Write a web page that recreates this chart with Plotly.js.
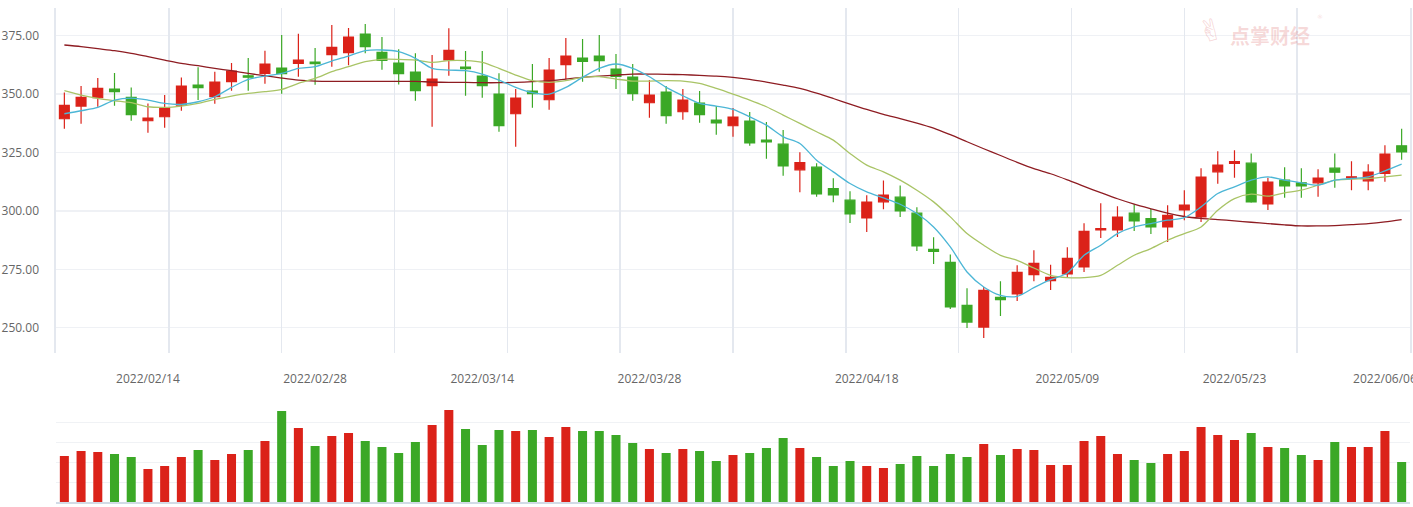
<!DOCTYPE html>
<html>
<head>
<meta charset="utf-8">
<script src="https://cdn.plot.ly/plotly-3.0.1.min.js"></script>
<style>html,body{margin:0;padding:0;background:#fff;}#chart{width:1413px;height:507px;}</style>
</head>
<body>
<div id="chart"></div>
<script>
// ---- data ----
const dates = [
'2022/02/07','2022/02/08','2022/02/09','2022/02/10','2022/02/11','2022/02/14','2022/02/15','2022/02/16','2022/02/17','2022/02/18',
'2022/02/21','2022/02/22','2022/02/23','2022/02/24','2022/02/25','2022/02/28','2022/03/01','2022/03/02','2022/03/03','2022/03/04',
'2022/03/07','2022/03/08','2022/03/09','2022/03/10','2022/03/11','2022/03/14','2022/03/15','2022/03/16','2022/03/17','2022/03/18',
'2022/03/21','2022/03/22','2022/03/23','2022/03/24','2022/03/25','2022/03/28','2022/03/29','2022/03/30','2022/03/31','2022/04/01',
'2022/04/06','2022/04/07','2022/04/08','2022/04/11','2022/04/12','2022/04/13','2022/04/14','2022/04/15','2022/04/18','2022/04/19',
'2022/04/20','2022/04/21','2022/04/22','2022/04/25','2022/04/26','2022/04/27','2022/04/28','2022/04/29','2022/05/05','2022/05/06',
'2022/05/09','2022/05/10','2022/05/11','2022/05/12','2022/05/13','2022/05/16','2022/05/17','2022/05/18','2022/05/19','2022/05/20',
'2022/05/23','2022/05/24','2022/05/25','2022/05/26','2022/05/27','2022/05/30','2022/05/31','2022/06/01','2022/06/02','2022/06/06',
'2022/06/07'];
const tickDates = ['2022/02/14','2022/02/28','2022/03/14','2022/03/28','2022/04/18','2022/05/09','2022/05/23','2022/06/06'];
const yTicks = [250, 275, 300, 325, 350, 375];

const open = [339.43,344.86,348.43,352.14,348.57,338.57,340.29,345.29,353.86,348.86,
355.29,357.8,358.86,361.14,363.14,363.71,366.86,367.71,375.71,367.86,
363.29,359.43,353.57,364.57,361.57,357.71,350.0,341.57,351.29,347.57,
362.57,365.43,366.29,360.71,357.29,346.29,350.86,342.43,346.14,338.86,
336.43,338.43,330.29,328.57,317.57,318.71,309.57,304.57,297.0,303.86,
305.86,299.0,283.57,278.0,259.57,250.29,263.0,264.43,272.71,270.14,
273.0,276.0,291.86,291.86,299.0,296.71,293.14,300.43,297.43,316.71,
320.29,320.43,303.0,313.14,312.0,312.0,318.29,314.14,312.86,316.0,
327.86];
const high = [350.71,353.43,356.86,359.0,352.86,346.0,349.57,357.14,361.43,359.57,
363.29,365.43,368.57,375.29,375.86,369.71,379.57,378.29,380.0,374.43,
369.14,367.43,366.71,378.14,368.43,368.43,358.86,352.14,362.86,365.43,
374.0,373.57,375.29,367.14,362.86,356.0,353.43,352.14,351.29,344.86,
344.0,342.29,338.0,334.57,325.14,320.43,314.0,308.43,306.71,313.0,
310.86,301.57,288.71,281.29,266.86,267.43,269.86,276.71,283.14,277.0,
284.43,294.71,303.29,302.0,302.86,300.86,302.43,308.86,318.29,325.57,
326.0,324.57,314.14,318.71,318.29,317.86,324.57,321.29,320.0,328.14,
335.14];
const low = [335.14,337.29,344.57,345.0,338.57,333.43,335.57,342.86,347.43,345.86,
351.43,351.43,354.43,350.14,357.43,354.0,361.71,362.29,367.43,360.43,
354.14,347.14,336.0,357.86,349.29,348.43,333.86,327.43,344.14,343.29,
356.29,355.29,359.57,352.14,347.14,339.86,337.29,339.0,337.71,332.57,
331.71,327.86,322.29,315.0,308.0,306.0,303.71,294.86,291.0,300.71,
297.43,282.86,277.29,258.0,249.86,245.57,255.0,261.43,269.86,266.14,
271.29,273.86,288.43,288.86,291.43,290.14,286.71,296.0,295.29,311.57,
314.14,303.43,300.43,305.57,305.57,306.0,309.86,308.86,308.86,312.43,
321.86];
const close = [345.14,348.57,352.43,351.0,341.14,339.71,344.14,353.43,352.71,355.14,
359.86,357.2,362.86,358.71,364.57,363.0,370.0,374.43,370.29,364.43,
358.71,351.43,356.43,368.71,360.86,353.57,336.43,348.29,350.14,360.29,
366.29,364.0,364.29,357.57,350.14,349.57,340.71,347.43,341.14,337.71,
340.14,329.14,329.57,319.29,320.71,307.29,306.86,298.71,303.71,306.71,
300.0,285.0,282.71,258.86,252.43,266.0,262.0,273.71,277.57,271.57,
279.71,291.29,292.43,297.29,295.71,293.14,298.14,302.43,314.43,319.57,
321.14,303.86,312.29,310.71,310.71,314.0,316.57,314.57,316.57,324.29,
325.29];
const volume = [2.32,2.57,2.52,2.42,2.27,1.67,1.82,2.27,2.62,2.12,
2.42,2.62,3.07,4.57,3.72,2.82,3.32,3.47,3.07,2.77,
2.47,3.02,3.87,4.62,3.67,2.87,3.62,3.57,3.62,3.27,
3.77,3.57,3.57,3.37,2.97,2.67,2.47,2.67,2.57,2.07,
2.37,2.47,2.72,3.22,2.72,2.27,1.82,2.07,1.82,1.72,
1.92,2.32,1.82,2.42,2.27,2.92,2.37,2.67,2.62,1.87,
1.87,3.07,3.32,2.42,2.12,1.97,2.42,2.57,3.77,3.37,
3.12,3.47,2.77,2.72,2.37,2.12,3.02,2.77,2.77,3.57,
2.02];
const ma5 = [341.57,342.86,344.29,347.43,348.29,347.43,346.0,345.57,346.71,348.86,
352.86,356.29,357.71,358.86,361.0,361.71,364.14,366.29,368.57,368.86,
368.14,365.29,361.0,360.29,360.0,358.57,356.0,352.86,350.57,350.0,
352.86,357.14,361.0,362.86,361.0,357.43,352.86,349.29,346.0,344.86,
343.43,340.29,336.71,331.71,328.86,321.71,316.71,311.71,308.14,305.57,
302.86,298.86,293.14,284.57,273.86,267.43,263.86,263.43,267.14,270.57,
273.43,281.0,285.29,290.29,293.14,294.57,296.0,297.14,301.71,307.43,
310.29,313.14,314.57,313.14,312.0,311.0,313.14,313.86,314.57,317.14,
320.0];
const ma10 = [351.43,349.57,348.14,347.14,346.29,344.57,344.29,344.86,346.0,347.71,
349.14,350.29,351.0,352.0,354.57,356.71,359.57,361.71,363.86,364.86,
364.86,364.57,363.57,364.29,364.29,363.57,361.0,358.14,355.71,355.0,
355.71,357.14,357.43,356.43,355.57,355.57,355.71,355.57,354.57,352.43,
350.0,347.43,344.57,341.0,337.43,333.86,330.29,324.57,319.57,316.71,
313.14,308.86,303.86,297.43,290.29,285.29,281.0,278.86,275.57,272.43,
271.43,271.43,272.43,276.71,281.0,283.86,287.43,290.29,293.14,300.29,
305.29,307.14,306.29,307.71,308.86,311.0,313.14,313.57,313.86,314.57,
315.29];
const ma60 = [371.0,370.29,369.43,368.57,367.43,366.0,364.57,363.14,362.14,361.0,
360.0,358.86,357.86,356.86,356.0,355.57,355.43,355.43,355.43,355.43,
355.43,355.43,355.14,355.0,355.0,354.86,354.86,355.0,355.29,355.71,
356.43,357.14,357.71,358.14,358.57,358.57,358.43,358.29,358.0,357.71,
357.14,356.29,355.14,353.86,352.43,350.4,348.1,345.7,343.4,341.3,
339.5,337.6,335.4,332.6,329.6,326.6,323.7,320.8,318.1,315.9,
313.3,310.5,307.8,305.2,302.9,300.9,299.0,297.6,296.8,296.3,
295.71,295.14,294.57,294.0,293.57,293.57,293.71,294.14,294.57,295.29,
296.29];

// ---- styles ----
const RED = '#db2219', GREEN = '#3ba826';
const GRIDV = '#e4e8ef';
const tickFont = {family: 'Open Sans, Lato, sans-serif', size: 12, color: '#666666'};
const volColors = close.map((c, i) => (c >= open[i] ? RED : GREEN));

const traces = [
  // carrier for the evenly spaced vertical grid axis (draws nothing)
  {type: 'scatter', mode: 'lines', x: [0, 12], y: [null, null], xaxis: 'x3', yaxis: 'y',
   hoverinfo: 'skip', showlegend: false},
  {
    type: 'candlestick', x: dates, open: open, high: high, low: low, close: close,
    xaxis: 'x', yaxis: 'y', whiskerwidth: 0, hoverinfo: 'skip',
    increasing: {line: {color: RED, width: 1.2}, fillcolor: RED},
    decreasing: {line: {color: GREEN, width: 1.2}, fillcolor: GREEN}
  },
  {type: 'scatter', mode: 'lines', x: dates, y: ma60, xaxis: 'x', yaxis: 'y', hoverinfo: 'skip',
   line: {color: '#8e1c22', width: 1.3, shape: 'spline', smoothing: 0.8}},
  {type: 'scatter', mode: 'lines', x: dates, y: ma10, xaxis: 'x', yaxis: 'y', hoverinfo: 'skip',
   line: {color: '#a9c466', width: 1.3, shape: 'spline', smoothing: 0.8}},
  {type: 'scatter', mode: 'lines', x: dates, y: ma5, xaxis: 'x', yaxis: 'y', hoverinfo: 'skip',
   line: {color: '#4cb6d6', width: 1.3, shape: 'spline', smoothing: 0.8}},
  {type: 'bar', x: dates, y: volume, xaxis: 'x2', yaxis: 'y2', width: 0.54, hoverinfo: 'skip',
   marker: {color: volColors, line: {width: 0}}}
];

const wm = 'rgba(226,120,120,0.28)';
const layout = {
  width: 1413, height: 507,
  margin: {l: 56, r: 3, t: 0, b: 0},
  paper_bgcolor: '#ffffff', plot_bgcolor: 'rgba(0,0,0,0)',
  showlegend: false,
  boxgap: 0.41, boxgroupgap: 0,
  xaxis: {
    type: 'category', domain: [0, 1], anchor: 'y', range: [-0.5, dates.length - 0.5],
    tickmode: 'array', tickvals: tickDates, ticktext: tickDates,
    showgrid: false, zeroline: false, showline: false, ticks: '',
    tickfont: tickFont, ticklabelstandoff: 17,
    rangeslider: {visible: false}, fixedrange: true
  },
  xaxis3: {
    overlaying: 'x', anchor: 'y', range: [0, 12], tick0: 0, dtick: 1,
    showgrid: true, gridcolor: GRIDV, gridwidth: 1.6,
    showticklabels: false, ticks: '', zeroline: false, showline: false, fixedrange: true
  },
  yaxis: {
    domain: [0.3043, 0.9836], anchor: 'x', range: [239.3, 386.7],
    tickmode: 'array', tickvals: yTicks, tickformat: '.2f',
    showgrid: true, gridcolor: '#eff1f5', gridwidth: 1.5,
    zeroline: false, showline: true, mirror: true, linecolor: GRIDV, linewidth: 1.6, ticks: '',
    tickfont: tickFont, ticklabelstandoff: 13, fixedrange: true
  },
  xaxis2: {
    type: 'category', domain: [0, 1], anchor: 'y2', range: [-0.5, dates.length - 0.5],
    showticklabels: false, showgrid: false, zeroline: false, ticks: '',
    showline: true, linecolor: '#d2dbe6', linewidth: 1.5, fixedrange: true
  },
  yaxis2: {
    domain: [0.0093, 0.2065], anchor: 'x2', range: [0, 5], tick0: 0, dtick: 1,
    showgrid: true, gridcolor: '#f0f2f5', gridwidth: 1.5,
    showticklabels: false, zeroline: false, showline: false, ticks: '', fixedrange: true
  },
  annotations: [
    {xref: 'paper', yref: 'paper', x: 0.8966, y: 0.929, xanchor: 'center', yanchor: 'middle',
     text: '点掌财经', showarrow: false,
     font: {family: 'Noto Sans CJK SC', size: 20, color: wm, weight: 700}},
    {xref: 'paper', yref: 'paper', x: 0.8525, y: 0.94, xanchor: 'center', yanchor: 'middle',
     text: '✌', showarrow: false, textangle: -15,
     font: {family: 'DejaVu Sans', size: 30, color: wm}},
    {xref: 'paper', yref: 'paper', x: 0.9335, y: 0.968, xanchor: 'center', yanchor: 'middle',
     text: '®', showarrow: false,
     font: {family: 'DejaVu Sans', size: 6, color: wm}}
  ]
};

Plotly.newPlot('chart', traces, layout, {displayModeBar: false, staticPlot: true});
</script>
</body>
</html>
